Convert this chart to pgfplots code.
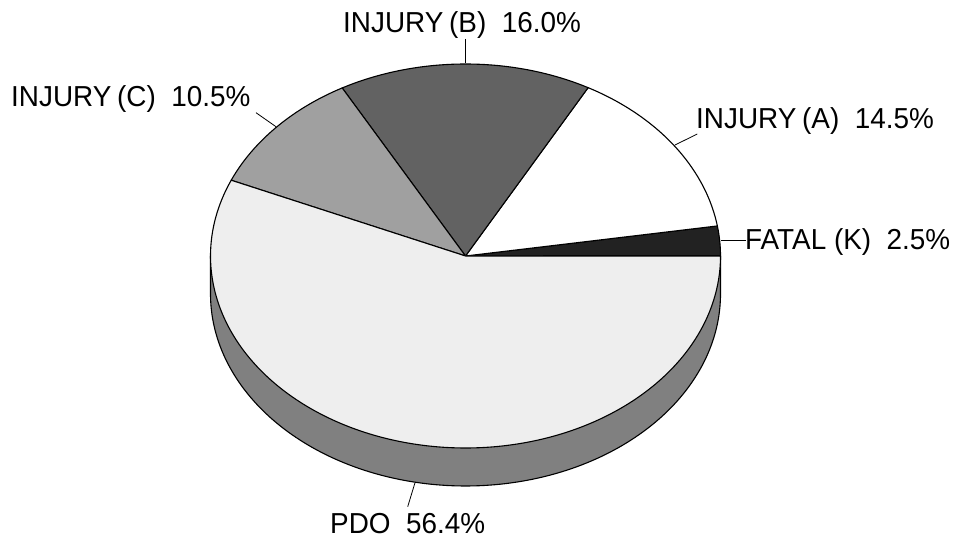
\documentclass[border=0pt]{standalone}
\usepackage{pgfplots}
\usepackage{pgfplotstable}
\pgfplotsset{compat=1.18}
\usepackage{fontspec}
\setmainfont[FakeStretch=0.965]{Liberation Sans}
\definecolor{cFatal}{HTML}{222222}
\definecolor{cA}{HTML}{FFFFFF}
\definecolor{cB}{HTML}{626262}
\definecolor{cC}{HTML}{A0A0A0}
\definecolor{cPDO}{HTML}{EEEEEE}
\definecolor{cSide}{HTML}{808080}
\pgfplotstableread{
label pct
FATAL 2.5
A 14.5
B 16.0
C 10.5
PDO 56.4
}\piedata
\xdef\pietotal{0}%
\pgfplotsforeachungrouped \i in {0,...,4}{%
  \pgfplotstablegetelem{\i}{pct}\of\piedata
  \pgfmathsetmacro\tmp{\pietotal+\pgfplotsretval}%
  \xdef\pietotal{\tmp}%
}%
\xdef\piecum{0}%
\pgfplotsforeachungrouped \i in {0,...,4}{%
  \pgfplotstablegetelem{\i}{pct}\of\piedata
  \pgfmathsetmacro\tmpA{\piecum}%
  \pgfmathsetmacro\tmpB{\piecum+\pgfplotsretval/\pietotal*360}%
  \expandafter\xdef\csname pieS\romannumeral\numexpr\i+1\relax\endcsname{\tmpA}%
  \expandafter\xdef\csname pieE\romannumeral\numexpr\i+1\relax\endcsname{\tmpB}%
  \xdef\piecum{\tmpB}%
}%
\begin{document}
\begin{tikzpicture}[lbl/.style={anchor=base west, inner sep=0pt, font=\fontsize{29}{34}\selectfont}]
\begin{axis}[
  width=956bp, height=538bp, scale only axis,
  xmin=0, xmax=956, ymin=0, ymax=538,
  hide axis, clip=false,
  every axis plot/.append style={line width=1.1bp, line join=round},
]
% side of the pie
\addplot[draw=black, fill=cSide, domain=180:360, samples=150, variable=\t]
  ({465.5+255*cos(t)},{244+192*sin(t)}) -- (axis cs:720.5,282) -- (axis cs:210.5,282) -- cycle;
% slices
\addplot[draw=black, fill=cFatal, domain=\pieSi:\pieEi, samples=20, variable=\t]
  ({465.5+255*cos(t)},{282+192*sin(t)}) -- (axis cs:465.5,282) -- cycle;
\addplot[draw=black, fill=cA, domain=\pieSii:\pieEii, samples=60, variable=\t]
  ({465.5+255*cos(t)},{282+192*sin(t)}) -- (axis cs:465.5,282) -- cycle;
\addplot[draw=black, fill=cB, domain=\pieSiii:\pieEiii, samples=60, variable=\t]
  ({465.5+255*cos(t)},{282+192*sin(t)}) -- (axis cs:465.5,282) -- cycle;
\addplot[draw=black, fill=cC, domain=\pieSiv:\pieEiv, samples=50, variable=\t]
  ({465.5+255*cos(t)},{282+192*sin(t)}) -- (axis cs:465.5,282) -- cycle;
\addplot[draw=black, fill=cPDO, domain=\pieSv:\pieEv, samples=200, variable=\t]
  ({465.5+255*cos(t)},{282+192*sin(t)}) -- (axis cs:465.5,282) -- cycle;
% leader lines
\addplot[black, line width=0.8bp] coordinates {(465.5,499) (465.5,474.5)};
\addplot[black, line width=0.8bp] coordinates {(256,425.3) (276,411.3)};
\addplot[black, line width=0.8bp] coordinates {(697.3,404) (675,393)};
\addplot[black, line width=0.8bp] coordinates {(746,298) (720.5,298)};
\addplot[black, line width=0.8bp] coordinates {(415,55.3) (407.7,31.3)};
% labels
\node[lbl] at (axis cs:343,505.7) {INJURY\hspace{0.2em}(B)~~16.0\%};
\node[lbl] at (axis cs:11,431.3) {INJURY\hspace{0.2em}(C)~~10.5\%};
\node[lbl] at (axis cs:696,409.7) {INJURY\hspace{0.2em}(A)~~14.5\%};
\node[lbl] at (axis cs:745,288) {FATAL (K)~~2.5\%};
\node[lbl] at (axis cs:330,5) {PDO~~56.4\%};
\end{axis}
\pgfresetboundingbox
\path (0,0) rectangle (956bp,538bp);
\end{tikzpicture}
\end{document}
